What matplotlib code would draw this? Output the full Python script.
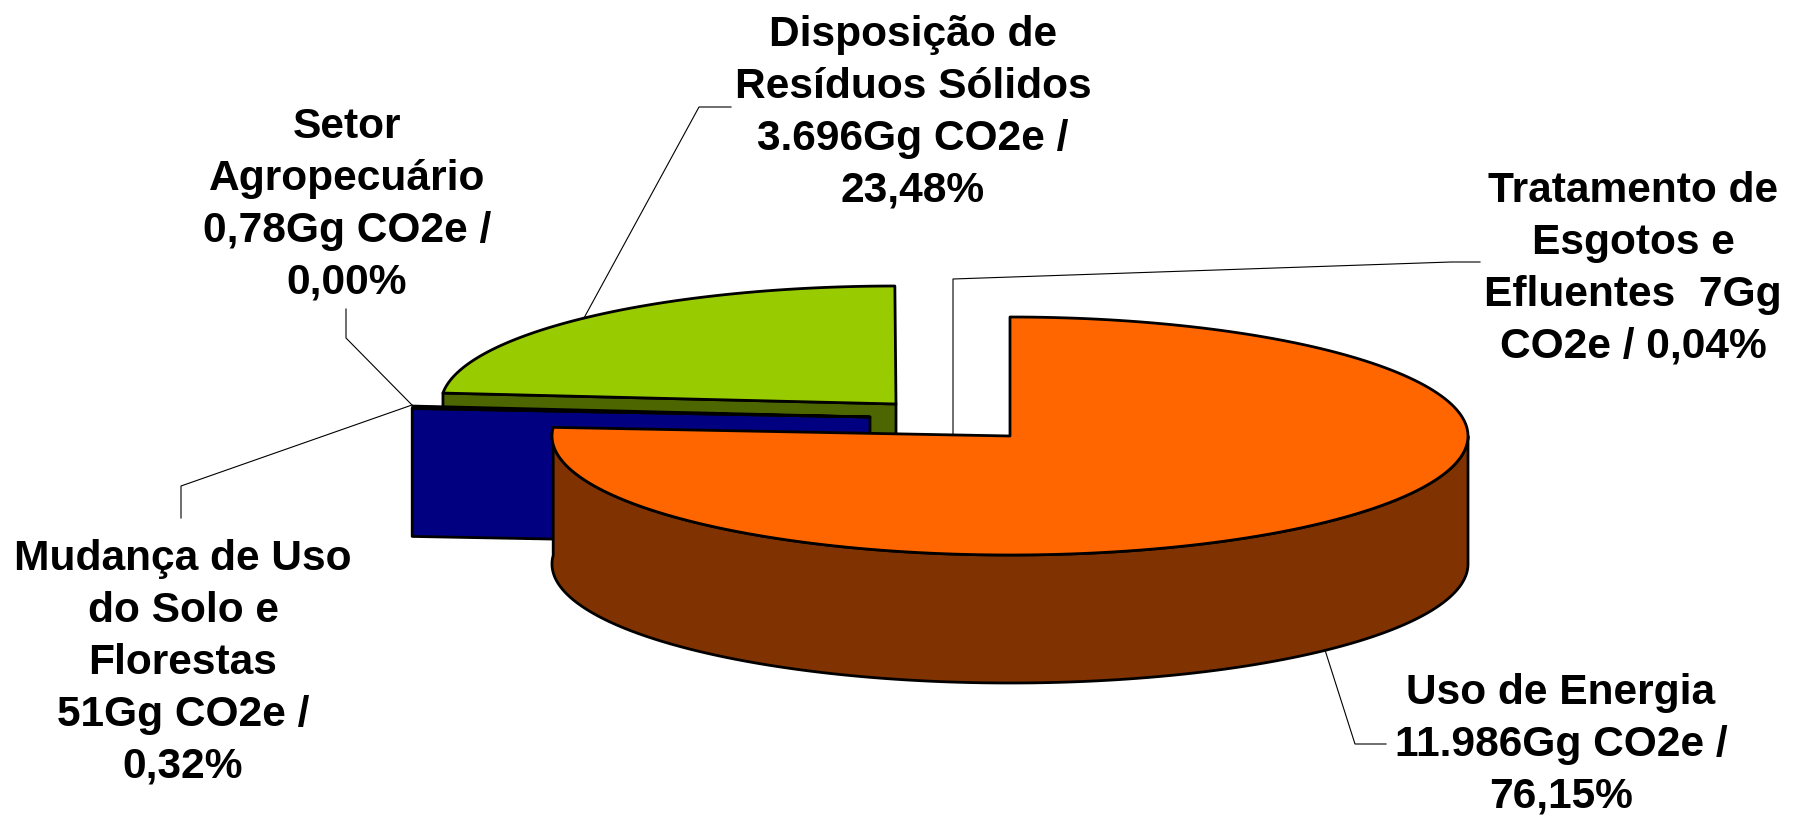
import numpy as np
import matplotlib
matplotlib.use("Agg")
import matplotlib.pyplot as plt
from matplotlib.patches import Polygon

plt.rcParams['font.family'] = ['Liberation Sans', 'DejaVu Sans']

labels = [
    "Uso de Energia\n11.986Gg CO2e /\n76,15%",
    "Mudança de Uso\ndo Solo e\nFlorestas\n51Gg CO2e /\n0,32%",
    "Setor\nAgropecuário\n0,78Gg CO2e /\n0,00%",
    "Disposição de\nResíduos Sólidos\n3.696Gg CO2e /\n23,48%",
    "Tratamento de\nEsgotos e\nEfluentes  7Gg\nCO2e / 0,04%",
]
shares = [76.15, 0.32, 0.00, 23.48, 0.04]

# slice angles, clockwise from the top of the pie
edges = np.cumsum([0] + shares) / sum(shares) * 360
depth = 128


def rim(c, rx, ry, a0, a1):
    t = np.radians(np.linspace(a0, a1, 200))
    return np.column_stack([c[0] + rx * np.sin(t), c[1] - ry * np.cos(t)])


def draw(ax, pts, color, z, lw=2.0):
    ax.add_patch(Polygon(pts, closed=True, facecolor=color, edgecolor="black",
                         linewidth=lw, joinstyle="round", zorder=z))


fig = plt.figure(figsize=(17.96, 8.17), dpi=100)
ax = fig.add_axes([0, 0, 1, 1])
ax.set_xlim(0, 1796)
ax.set_ylim(817, 0)
ax.axis("off")

# Disposicao de Residuos (back slice)
c = (896, 404)
a = rim(c, 455, 118, edges[3], edges[4])
draw(ax, [a[0], c, (c[0], c[1] + depth), (a[0][0], a[0][1] + depth)], "#4D6600", 1)
draw(ax, np.vstack([[c], a]), "#99CC00", 2)

# Mudanca de Uso do Solo
c = (870, 417)
a = rim(c, 459, 118, edges[1], edges[2])
draw(ax, [a[0], c, (c[0], c[1] + depth), (a[0][0], a[0][1] + depth)], "#000080", 3)
draw(ax, np.vstack([[c], a]), "#000000", 4)

# Uso de Energia
c = (1010, 436)
a = rim(c, 458, 119, 90, edges[1])
draw(ax, np.vstack([a, (a + [0, depth])[::-1]]), "#803300", 5)
a = rim(c, 458, 119, edges[0], edges[1])
draw(ax, np.vstack([[c], a]), "#FF6600", 6)

# leader lines
leaders = [
    [(1325, 650), (1355, 744), (1386, 744)],
    [(412, 405), (181, 486), (181, 518)],
    [(412, 405), (346, 338), (346, 309)],
    [(584, 318), (699, 107), (731, 107)],
    [(953, 435), (953, 279), (1451, 262), (1480, 262)],
]
for pts in leaders:
    xs, ys = zip(*pts)
    ax.plot(xs, ys, color="black", lw=0.8, zorder=7)

# label centres
label_x = [1561, 183, 347, 913, 1633]
label_y = [745, 663, 205, 113, 269]
for s, x, y in zip(labels, label_x, label_y):
    ax.text(x, y, s, ha="center", va="center", ma="center", fontsize=30.6,
            fontweight="bold", color="black", linespacing=1.38, zorder=8)

fig.savefig("out.png", dpi=100, facecolor="white")
